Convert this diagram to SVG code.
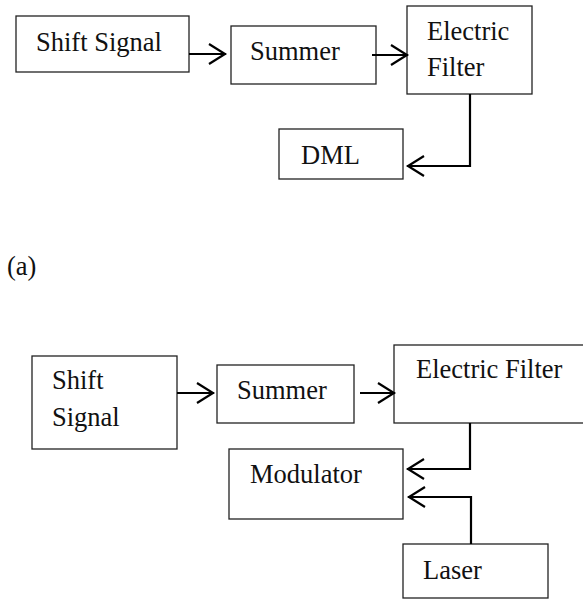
<svg xmlns="http://www.w3.org/2000/svg" width="583" height="600" viewBox="0 0 583 600">
<style>
  .box { fill: #fff; stroke: #222; stroke-width: 1.3; }
  .lbl { font-family: "Liberation Serif", "DejaVu Serif", serif; font-size: 26.5px; fill: #111; }
  .conn { fill: none; stroke: #000; stroke-width: 2.2; }
</style>
<defs>
  <marker id="arr" viewBox="-22 -13 26 26" refX="0" refY="0" markerWidth="26" markerHeight="26" markerUnits="userSpaceOnUse" orient="auto">
    <path d="M-17,-10 L-1,0 L-17,10" fill="none" stroke="#000" stroke-width="2.2"/>
  </marker>
</defs>
<rect width="583" height="600" fill="#fff"/>

<g id="shift-signal-a"><rect class="box" x="16" y="16" width="173" height="56"/><text class="lbl" x="36" y="51">Shift Signal</text></g>
<g id="summer-a"><rect class="box" x="231" y="26" width="145" height="58"/><text class="lbl" x="250" y="60">Summer</text></g>
<g id="filter-a"><rect class="box" x="407" y="6" width="125" height="88"/><text class="lbl" x="427" y="40">Electric</text><text class="lbl" x="427" y="76">Filter</text></g>
<g id="dml"><rect class="box" x="279" y="129" width="124" height="50"/><text class="lbl" x="301" y="164">DML</text></g>

<g id="caption-a"><text class="lbl" x="7" y="275">(a)</text></g>

<g id="shift-signal-b"><rect class="box" x="32" y="356" width="145" height="93"/><text class="lbl" x="52" y="389">Shift</text><text class="lbl" x="52" y="426">Signal</text></g>
<g id="summer-b"><rect class="box" x="217" y="365" width="137" height="58"/><text class="lbl" x="237" y="399">Summer</text></g>
<g id="filter-b"><rect class="box" x="394" y="345" width="220" height="78"/><text class="lbl" x="416" y="378">Electric Filter</text></g>
<g id="modulator"><rect class="box" x="229" y="449" width="174" height="70"/><text class="lbl" x="250" y="483">Modulator</text></g>
<g id="laser"><rect class="box" x="403" y="544" width="145" height="54"/><text class="lbl" x="423" y="579">Laser</text></g>

<g id="connectors">
  <path class="conn" d="M189,54 H226" marker-end="url(#arr)"/>
  <path class="conn" d="M372,55 H408" marker-end="url(#arr)"/>
  <path class="conn" d="M470,94 V166 H407" marker-end="url(#arr)"/>
  <path class="conn" d="M177,393 H214" marker-end="url(#arr)"/>
  <path class="conn" d="M360,393 H395" marker-end="url(#arr)"/>
  <path class="conn" d="M470,423 V469 H407" marker-end="url(#arr)"/>
  <path class="conn" d="M471,544 V497 H408" marker-end="url(#arr)"/>
</g>
</svg>
